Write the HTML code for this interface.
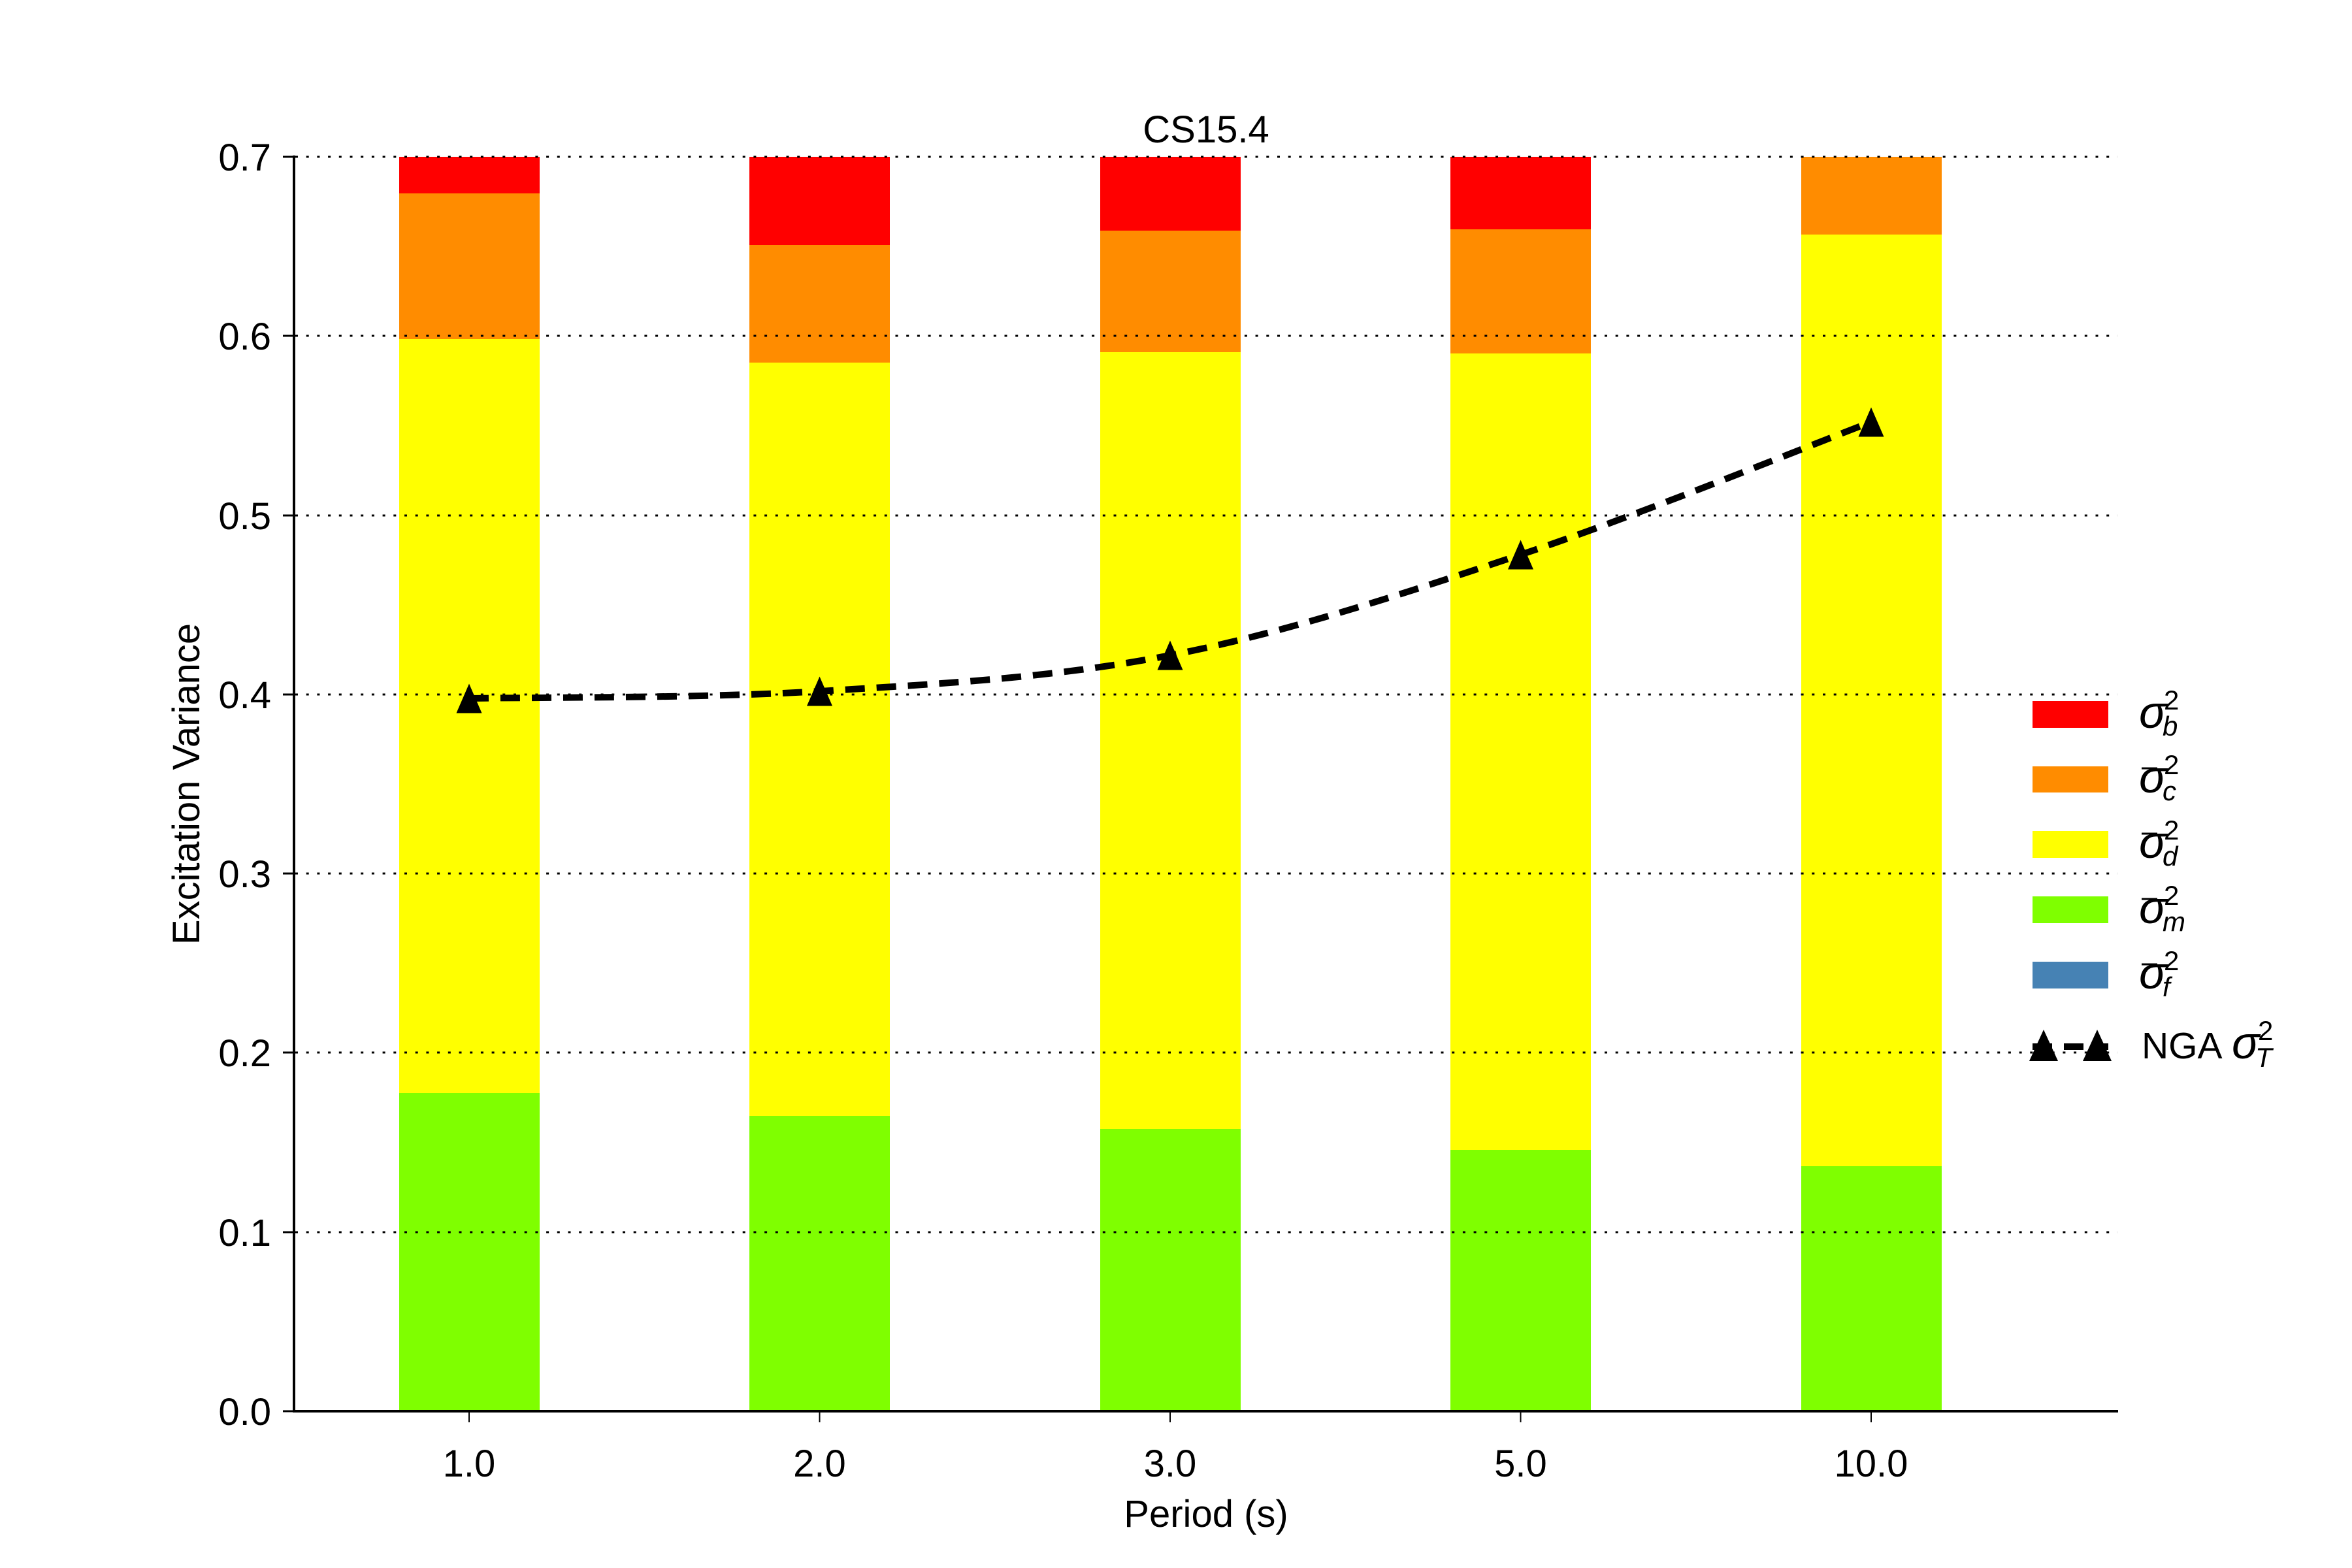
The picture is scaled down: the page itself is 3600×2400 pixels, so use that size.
<!DOCTYPE html>
<html><head><meta charset="utf-8"><style>
html,body{margin:0;padding:0;background:#fff;}
svg{display:block;}
text{font-family:"Liberation Sans",sans-serif;fill:#000;}
.m{font-family:"DejaVu Serif","Liberation Serif",serif;font-style:italic;}
</style></head><body>
<svg width="3600" height="2400" viewBox="0 0 3600 2400" xmlns="http://www.w3.org/2000/svg">
<rect width="3600" height="2400" fill="#fff"/>
<g>
 <rect x="611" y="1673" width="215" height="487" fill="#7fff00"/>
 <rect x="611" y="519" width="215" height="1154" fill="#ffff00"/>
 <rect x="611" y="296" width="215" height="223" fill="#ff8c00"/>
 <rect x="611" y="240" width="215" height="56" fill="#ff0000"/>

 <rect x="1147" y="1708" width="215" height="452" fill="#7fff00"/>
 <rect x="1147" y="555" width="215" height="1153" fill="#ffff00"/>
 <rect x="1147" y="375" width="215" height="180" fill="#ff8c00"/>
 <rect x="1147" y="240" width="215" height="135" fill="#ff0000"/>

 <rect x="1684" y="1728" width="215" height="432" fill="#7fff00"/>
 <rect x="1684" y="539" width="215" height="1189" fill="#ffff00"/>
 <rect x="1684" y="353" width="215" height="186" fill="#ff8c00"/>
 <rect x="1684" y="240" width="215" height="113" fill="#ff0000"/>

 <rect x="2220" y="1760" width="215" height="400" fill="#7fff00"/>
 <rect x="2220" y="541" width="215" height="1219" fill="#ffff00"/>
 <rect x="2220" y="351" width="215" height="190" fill="#ff8c00"/>
 <rect x="2220" y="240" width="215" height="111" fill="#ff0000"/>

 <rect x="2757" y="1785" width="215" height="375" fill="#7fff00"/>
 <rect x="2757" y="359" width="215" height="1426" fill="#ffff00"/>
 <rect x="2757" y="240" width="215" height="119" fill="#ff8c00"/>
</g>
<g stroke="#000" stroke-width="3" stroke-dasharray="4 12.7">
 <line x1="452" y1="240" x2="3241" y2="240"/>
 <line x1="452" y1="514" x2="3241" y2="514"/>
 <line x1="452" y1="789" x2="3241" y2="789"/>
 <line x1="452" y1="1063" x2="3241" y2="1063"/>
 <line x1="452" y1="1337" x2="3241" y2="1337"/>
 <line x1="452" y1="1611" x2="3241" y2="1611"/>
 <line x1="452" y1="1886" x2="3241" y2="1886"/>
</g>
<line x1="450" y1="238" x2="450" y2="2162" stroke="#000" stroke-width="4"/>
<line x1="448" y1="2160" x2="3242" y2="2160" stroke="#000" stroke-width="4"/>
<g stroke="#000" stroke-width="3">
 <line x1="433" y1="240" x2="450" y2="240"/>
 <line x1="433" y1="514" x2="450" y2="514"/>
 <line x1="433" y1="789" x2="450" y2="789"/>
 <line x1="433" y1="1063" x2="450" y2="1063"/>
 <line x1="433" y1="1337" x2="450" y2="1337"/>
 <line x1="433" y1="1611" x2="450" y2="1611"/>
 <line x1="433" y1="1886" x2="450" y2="1886"/>
 <line x1="433" y1="2160" x2="450" y2="2160"/>
</g>
<g stroke="#000" stroke-width="2">
 <line x1="718" y1="2162" x2="718" y2="2177"/>
 <line x1="1254.5" y1="2162" x2="1254.5" y2="2177"/>
 <line x1="1791" y1="2162" x2="1791" y2="2177"/>
 <line x1="2327.5" y1="2162" x2="2327.5" y2="2177"/>
 <line x1="2864" y1="2162" x2="2864" y2="2177"/>
</g>
<g font-size="58" text-anchor="end">
 <text x="415" y="261">0.7</text>
 <text x="415" y="535">0.6</text>
 <text x="415" y="810">0.5</text>
 <text x="415" y="1084">0.4</text>
 <text x="415" y="1358">0.3</text>
 <text x="415" y="1632">0.2</text>
 <text x="415" y="1907">0.1</text>
 <text x="415" y="2181">0.0</text>
</g>
<g font-size="58" text-anchor="middle">
 <text x="718" y="2260">1.0</text>
 <text x="1254.5" y="2260">2.0</text>
 <text x="1791" y="2260">3.0</text>
 <text x="2327.5" y="2260">5.0</text>
 <text x="2864" y="2260">10.0</text>
 <text x="1846" y="2337">Period (s)</text>
 <text x="1846" y="218">CS15.4</text>
 <text transform="translate(305,1200) rotate(-90)">Excitation Variance</text>
</g>
<path d="M718,1069 C807.4,1067.2 1075.7,1069 1254.5,1058 C1433.3,1047 1612.2,1037.8 1791,1003 C1969.8,968.2 2148.7,908.5 2327.5,849 C2506.3,789.5 2774.6,679.8 2864,646" fill="none" stroke="#000" stroke-width="10" stroke-dasharray="30 18"/>
<g fill="#000">
 <polygon points="718,1046.5 698.5,1091.5 737.5,1091.5"/>
 <polygon points="1254.5,1035.5 1235,1080.5 1274,1080.5"/>
 <polygon points="1791,980.5 1771.5,1025.5 1810.5,1025.5"/>
 <polygon points="2327.5,826.5 2308,871.5 2347,871.5"/>
 <polygon points="2864,623.5 2844.5,668.5 2883.5,668.5"/>
</g>
<rect x="3111" y="1073" width="116" height="41" fill="#ff0000"/>
<rect x="3111" y="1173" width="116" height="40" fill="#ff8c00"/>
<rect x="3111" y="1272" width="116" height="41" fill="#ffff00"/>
<rect x="3111" y="1372" width="116" height="41" fill="#7fff00"/>
<rect x="3111" y="1472" width="116" height="41" fill="#4682b4"/>
<line x1="3111" y1="1602" x2="3227" y2="1602" stroke="#000" stroke-width="10" stroke-dasharray="30 18"/>
<polygon points="3128,1576 3106,1624 3150,1624" fill="#000"/>
<polygon points="3210,1576 3188,1624 3232,1624" fill="#000"/>
<g class="m">
 <text x="3274" y="1114" font-size="70">σ</text><text x="3312" y="1086" font-size="42" style="font-style:normal">2</text><text x="3310" y="1126" font-size="42">b</text>
 <text x="3274" y="1213" font-size="70">σ</text><text x="3312" y="1185" font-size="42" style="font-style:normal">2</text><text x="3310" y="1225" font-size="42">c</text>
 <text x="3274" y="1313" font-size="70">σ</text><text x="3312" y="1285" font-size="42" style="font-style:normal">2</text><text x="3310" y="1325" font-size="42">d</text>
 <text x="3274" y="1413" font-size="70">σ</text><text x="3312" y="1385" font-size="42" style="font-style:normal">2</text><text x="3310" y="1425" font-size="42">m</text>
 <text x="3274" y="1513" font-size="70">σ</text><text x="3312" y="1485" font-size="42" style="font-style:normal">2</text><text x="3310" y="1525" font-size="42">f</text>
 <text x="3416" y="1620" font-size="70">σ</text><text x="3456" y="1592" font-size="42" style="font-style:normal">2</text><text x="3452" y="1633" font-size="42">T</text>
</g>
<g stroke="#000" stroke-width="3">
 <line x1="3278" y1="1176" x2="3302" y2="1176"/>
 <line x1="3278" y1="1276" x2="3302" y2="1276"/>
 <line x1="3278" y1="1376" x2="3302" y2="1376"/>
 <line x1="3278" y1="1476" x2="3302" y2="1476"/>
</g>
<text x="3278" y="1620" font-size="57">NGA</text>
</svg>
</body></html>
